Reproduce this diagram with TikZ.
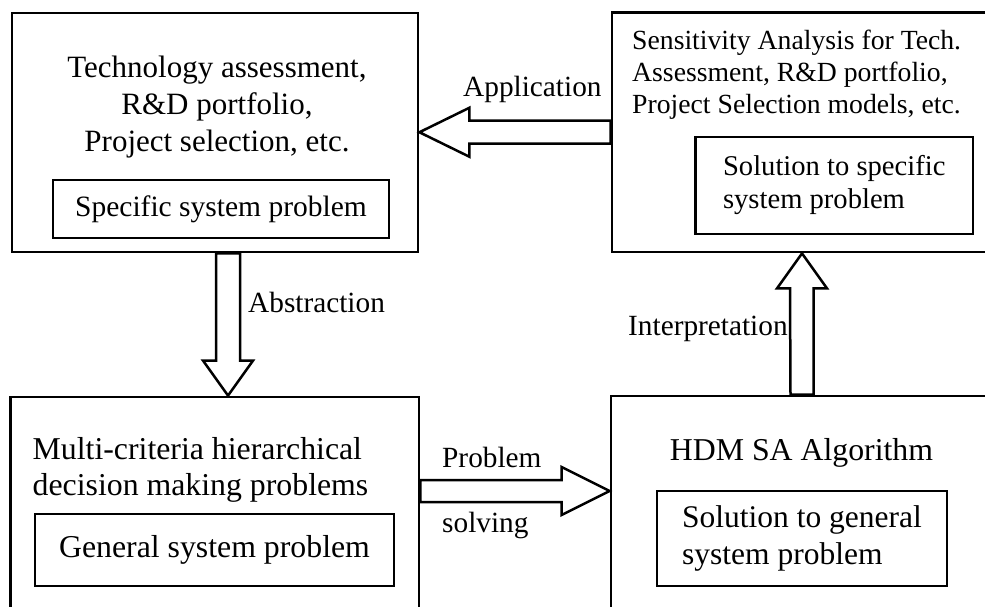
\documentclass[tikz,border=0pt]{standalone}
\usepackage{fontspec}
\setmainfont{Liberation Serif}
\usetikzlibrary{calc}

\tikzset{
  outerbox/.style={draw, line width=2.8pt, inner sep=0pt},
  innerbox/.style={draw, line width=2.5pt, inner sep=0pt, align=left},
  blockarrow/.style={draw, fill=white, line width=2.5pt, line join=miter},
  bigtext/.style={inner sep=0pt, font=\fontsize{31.5}{37}\selectfont},
  labeltext/.style={inner sep=0pt, font=\fontsize{29.3}{34}\selectfont},
}

\begin{document}
\begin{tikzpicture}[x=1pt, y=-1pt]
\useasboundingbox (0,0) rectangle (985,607);
\clip (0,0) rectangle (985,607);

% four main blocks (the right and lower ones run past the page edge)
\node[outerbox, minimum width=406pt, minimum height=239pt] (TL) at (215,132.5) {};
\node[outerbox, minimum width=398pt, minimum height=239.5pt] (TR) at (811,132.25) {};
\node[outerbox, minimum width=408.5pt, minimum height=243pt] (BL) at (214.75,518.5) {};
\node[outerbox, minimum width=399pt, minimum height=244pt] (BR) at (810.5,518) {};

% headings of the blocks
\node[bigtext, font=\fontsize{31}{37}\selectfont, align=center, anchor=north] (TLtxt) at (217,55.8)
  {Technology assessment,\\R\&D portfolio,\\Project selection, etc.};
\node[bigtext, font=\fontsize{27.7}{32}\selectfont, align=left, anchor=north west] (TRtxt) at (632,30.1)
  {Sensitivity Analysis for Tech.\\Assessment, R\&D portfolio,\\Project Selection models, etc.};
\node[bigtext, font=\fontsize{31.8}{36}\selectfont, align=left, anchor=north west] (BLtxt) at (32.5,437.3)
  {Multi-criteria hierarchical\\decision making problems};
\node[bigtext, font=\fontsize{31.8}{37}\selectfont, anchor=base] (BRtxt) at (801.5,460)
  {HDM SA Algorithm};

% problem boxes inside the blocks
\node[innerbox, minimum width=336pt, minimum height=58pt, font=\fontsize{29.5}{34}\selectfont] (TLin) at (221,209)
  {Specific system problem};
\node[innerbox, minimum width=277.5pt, minimum height=97pt, font=\fontsize{28.6}{33}\selectfont] (TRin) at (834.25,185.5)
  {Solution to specific\\system problem};
\node[innerbox, minimum width=359pt, minimum height=72pt, font=\fontsize{31.8}{37}\selectfont] (BLin) at (214.5,550)
  {General system problem};
\node[innerbox, minimum width=290pt, minimum height=95pt, font=\fontsize{31.5}{37}\selectfont] (BRin) at (802,538.5)
  {Solution to general\\system problem};

% end points of the block arrows
\coordinate (appS) at (TR.west);
\coordinate (appT) at (TL.east |- appS);
\coordinate (psS) at ($(BL.east)+(0,-27.5)$);
\coordinate (psT) at (BR.west |- psS);
\coordinate (abS) at ($(TL.south)+(13,0)$);
\coordinate (abT) at (BL.north -| abS);
\coordinate (inS) at ($(BR.north)+(-8.5,0)$);
\coordinate (inT) at (TR.south -| inS);

% Application: right block to left block
\draw[blockarrow] (appT) -- ++(50,-24.5) -- ++(0,13) -- ($(appS)+(0,-11.5)$)
  -- ($(appS)+(0,11.5)$) -- ($(appT)+(50,11.5)$) -- ++(0,13) -- cycle;
% Problem solving: lower left to lower right
\draw[blockarrow] (psT) -- ++(-48,-24) -- ++(0,13) -- ($(psS)+(0,-11)$)
  -- ($(psS)+(0,11)$) -- ($(psT)+(-48,11)$) -- ++(0,13) -- cycle;
% Abstraction: downwards
\draw[blockarrow] (abT) -- ++(-25,-35) -- ++(13,0) -- ($(abS)+(-12,0)$)
  -- ($(abS)+(12,0)$) -- ($(abT)+(12,-35)$) -- ++(13,0) -- cycle;
% Interpretation: upwards
\draw[blockarrow] (inT) -- ++(-25,35) -- ++(13,0) -- ($(inS)+(-11.5,0)$)
  -- ($(inS)+(11.5,0)$) -- ($(inT)+(11.5,35)$) -- ++(13.5,0) -- cycle;

% arrow labels
\node[labeltext, anchor=base west] (appLbl) at (463,97) {Application};
\node[labeltext, anchor=base west] (abLbl) at (248,312) {Abstraction};
\node[labeltext, anchor=base west] (psLbl1) at (442,467) {Problem};
\node[labeltext, anchor=base west] (psLbl2) at (442,532) {solving};
\node[labeltext, anchor=base west] (inLbl) at (628,335) {Interpretation};
\end{tikzpicture}
\end{document}
